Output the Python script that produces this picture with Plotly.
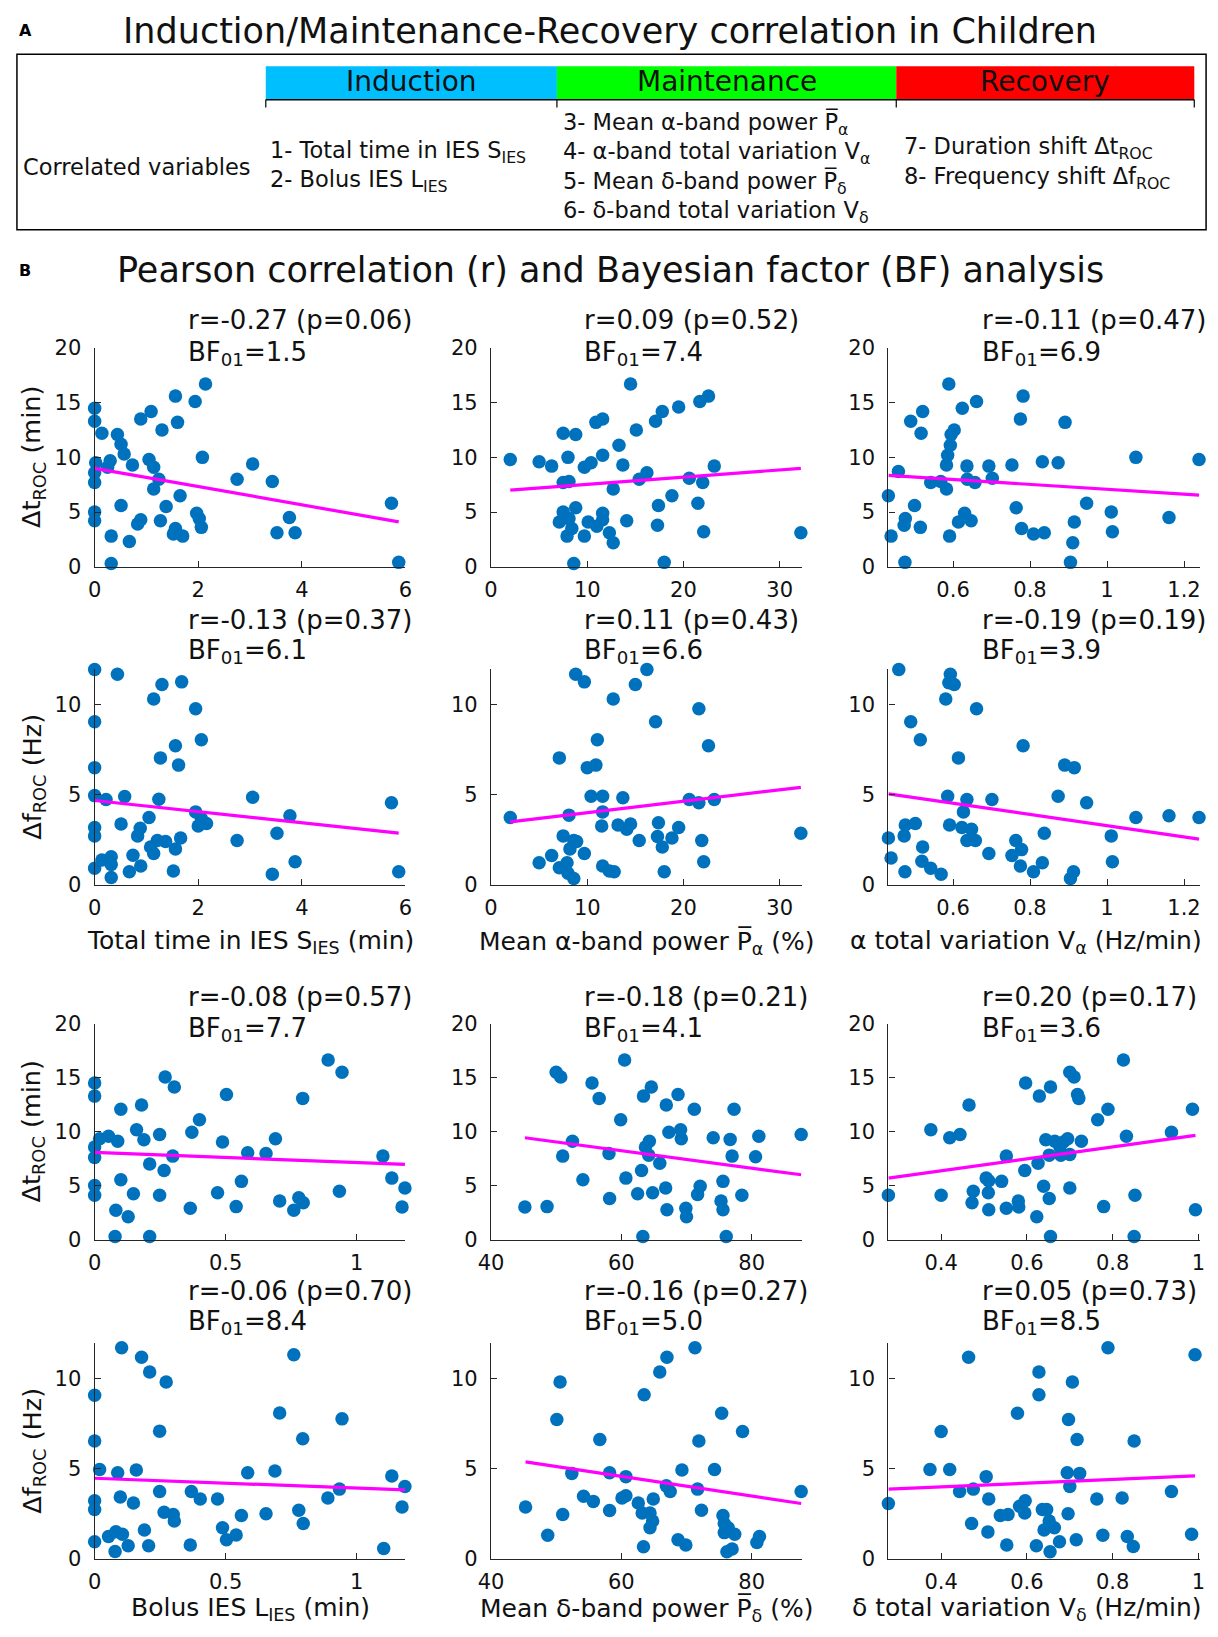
import plotly.graph_objects as go

W, H = 1218, 1637

# ---- data ----
# row 1: dt_ROC (min) against induction / maintenance alpha variables
sies_dt_x = [0, 0, 0.14, 0.44, 0.51, 0.57, 0.73, 0.02, 0.25, 0.30, 0, 0, 0, 0, 0.32, 0.32, 0.51, 0.67,
             0.83, 0.89, 0.89, 1.09, 1.05, 1.14, 1.24, 1.14, 1.30, 1.27, 1.38, 1.56, 1.60, 1.65, 1.56,
             1.52, 1.70, 1.94, 2.14, 2.08, 1.97, 2.02, 2.06, 2.75, 3.05, 3.43, 3.52, 3.76, 3.87, 5.73, 5.87]
sies_dt_y = [14.5, 13.3, 12.2, 12.1, 11.2, 10.3, 9.3, 9.5, 9.1, 9.7, 8.6, 7.7, 5.0, 4.2, 2.8, 0.3, 5.6, 2.3,
             3.9, 4.3, 13.5, 14.2, 9.8, 9.1, 8.0, 7.1, 12.5, 4.2, 5.5, 15.6, 13.2, 6.5, 3.5,
             3.0, 2.8, 15.1, 16.7, 10.0, 4.9, 4.4, 3.6, 8.0, 9.4, 7.8, 3.1, 4.5, 3.1, 5.8, 0.4]

palpha_dt_x = [2.0, 5.0, 6.3, 7.5, 8.8, 8.0, 7.5, 8.1, 7.5, 7.1, 8.1, 8.8, 8.4, 7.9, 8.6, 9.7, 9.7, 10.4,
               10.1, 11.0, 11.6, 11.6, 12.3, 12.7, 10.9, 11.6, 11.6, 13.3, 13.7, 12.7, 14.1, 14.5, 15.1,
               15.4, 16.2, 17.1, 17.8, 19.5, 17.4, 17.3, 18.0, 18.8, 20.6, 21.7, 22.6, 22.0, 21.5, 22.1,
               23.2, 32.2]
palpha_dt_y = [9.8, 9.6, 9.2, 12.2, 12.1, 10.0, 7.7, 7.8, 5.0, 4.1, 4.4, 5.4, 3.5, 2.8, 0.3, 2.8, 9.1, 9.5,
               4.1, 3.7, 4.9, 4.3, 3.1, 2.2, 13.2, 13.5, 10.2, 11.1, 9.3, 7.1, 4.2, 16.7, 12.5,
               8.0, 8.6, 13.3, 14.2, 14.6, 5.6, 3.8, 0.4, 6.5, 8.1, 15.1, 15.6, 7.7, 5.8, 3.2,
               9.2, 3.1]

valpha_dt_x = [0.432, 0.439, 0.458, 0.475, 0.473, 0.476, 0.490, 0.500, 0.515, 0.517, 0.521, 0.542, 0.568,
               0.583, 0.583, 0.586, 0.593, 0.595, 0.603, 0.589, 0.591, 0.614, 0.624, 0.630, 0.636, 0.637,
               0.647, 0.657, 0.661, 0.693, 0.702, 0.753, 0.764, 0.775, 0.782, 0.778, 0.809, 0.837, 0.832,
               0.873, 0.891, 0.905, 0.911, 0.915, 0.947, 1.011, 1.014, 1.075, 1.161, 1.239]
valpha_dt_y = [6.5, 2.8, 8.7, 0.4, 3.8, 4.4, 13.3, 5.6, 3.6, 12.2, 14.2, 7.7, 7.8,
               7.1, 9.3, 10.2, 11.1, 12.1, 12.5, 16.7, 2.8, 4.1, 14.5, 4.9, 9.2, 8.0,
               4.2, 7.7, 15.1, 9.2, 8.1, 9.3, 5.4, 13.5, 15.6, 3.5, 3.0, 3.1, 9.6,
               9.5, 13.2, 0.4, 2.2, 4.1, 5.8, 5.0, 3.2, 10.0, 4.5, 9.8]

# row 2: df_ROC (Hz) against the same variables
sies_df_x = [0, 0.44, 1.14, 1.30, 1.68, 1.95, 0, 2.06, 1.27, 1.56, 1.62, 0, 0, 0.22, 0.58, 1.24, 3.05,
             5.73, 1.95, 2.06, 2.16, 2.0, 3.77, 3.52, 1.05, 0.51, 0, 0, 0.83, 0.88, 1.08, 1.14, 1.21,
             1.37, 1.56, 1.66, 2.75, 0, 0.14, 0.32, 0.32, 0.32, 0.67, 0.74, 0.89, 1.52, 3.43, 3.87, 5.87]
sies_df_y = [11.94, 11.67, 10.3, 11.1, 11.25, 9.76, 9.04, 8.04, 7.04, 7.71, 6.64, 6.5, 4.95, 4.74, 4.9,
             4.75, 4.86, 4.56, 4.05, 3.68, 3.41, 3.27, 3.83, 2.87, 3.74, 3.38, 3.19, 2.72, 2.72, 3.14,
             2.1, 1.74, 2.47, 2.41, 2.0, 2.6, 2.47, 0.93, 1.38, 1.56, 1.14, 0.42, 0.73, 1.65, 1.05,
             0.78, 0.6, 1.29, 0.73]

palpha_df_x = [2.0, 5.0, 6.3, 7.1, 7.5, 7.1, 7.9, 8.1, 8.2, 8.6, 8.0, 8.6, 8.9, 9.7, 8.8, 9.7, 10.0, 10.9,
               11.05, 10.4, 11.6, 11.6, 11.5, 11.6, 12.3, 12.8, 12.7, 13.7, 13.2, 14.1, 14.5, 15.0, 15.4,
               16.2, 17.1, 17.4, 17.3, 17.8, 18.0, 18.8, 19.5, 20.6, 21.6, 21.6, 22.6, 21.9, 22.1, 23.2,
               32.2]
palpha_df_y = [3.74, 1.23, 1.63, 7.04, 2.72, 0.96, 1.23, 3.87, 2.0, 2.47, 0.65, 0.36, 2.41, 1.74, 11.67,
               11.25, 6.5, 6.64, 8.04, 4.92, 4.92, 4.05, 3.27, 1.05, 0.78, 0.73, 10.3, 4.83, 3.32, 3.09,
               3.38, 11.1, 2.47, 11.94, 9.04, 3.45, 2.69, 2.1, 0.73, 2.6, 3.19, 4.74, 9.76, 4.56, 7.71,
               2.47, 1.29, 4.74, 2.87]

valpha_df_x = [0.432, 0.439, 0.459, 0.475, 0.473, 0.476, 0.490, 0.502, 0.515, 0.521, 0.519, 0.542, 0.569,
               0.581, 0.593, 0.589, 0.603, 0.586, 0.591, 0.614, 0.627, 0.636, 0.623, 0.648, 0.636, 0.658,
               0.661, 0.693, 0.701, 0.753, 0.763, 0.778, 0.775, 0.782, 0.809, 0.832, 0.837, 0.873, 0.890,
               0.915, 0.905, 0.913, 0.947, 1.011, 1.014, 1.075, 1.161, 1.239]
valpha_df_y = [2.6, 1.5, 11.94, 0.73, 2.72, 3.32, 9.04, 3.41, 8.04, 2.1, 1.32, 0.93, 0.6,
               10.3, 11.67, 11.2, 11.1, 4.92, 3.32, 7.04, 4.05, 4.74, 3.19, 3.09, 2.47, 2.47,
               9.76, 1.74, 4.74, 1.63, 2.47, 1.96, 1.05, 7.71, 0.73, 1.23, 2.87, 4.92, 6.64,
               6.5, 0.36, 0.73, 4.56, 2.72, 1.29, 3.74, 3.83, 3.74]

# row 3: dt_ROC (min) against bolus IES / maintenance delta variables
lies_dt_x = [0, 0, 0, 0, 0, 0, 0.019, 0.053, 0.088, 0.081, 0.078, 0.10, 0.10, 0.128, 0.148, 0.16, 0.188,
             0.179, 0.21, 0.21, 0.248, 0.248, 0.269, 0.304, 0.298, 0.265, 0.365, 0.371, 0.40, 0.469, 0.488,
             0.503, 0.54, 0.56, 0.584, 0.654, 0.69, 0.706, 0.76, 0.779, 0.796, 0.794, 0.891, 0.944, 0.934,
             1.10, 1.134, 1.184, 1.173]
lies_dt_y = [14.53, 13.31, 8.6, 7.63, 5.02, 4.13, 9.36, 9.6, 9.12, 2.74, 0.3, 12.1, 5.56, 2.13, 4.26, 10.2,
             9.27, 12.49, 7.02, 0.3, 9.76, 4.13, 15.08, 14.16, 7.75, 6.41, 2.92, 9.97, 11.12, 4.35, 9.06,
             13.47, 3.07, 5.41, 8.05, 7.99, 9.36, 3.59, 2.74, 3.89, 3.43, 13.1, 16.66, 15.53, 4.5,
             7.75, 5.71, 4.8, 3.04]

pdelta_dt_x = [45.2, 48.6, 50.0, 50.7, 51.0, 52.5, 54.1, 55.5, 56.6, 58.1, 58.2, 59.9, 60.5, 60.7, 62.5,
               63.1, 63.4, 63.3, 63.7, 64.3, 64.2, 64.6, 64.8, 65.9, 66.9, 66.8, 67.0, 67.3, 68.7, 69.1,
               69.2, 69.9, 70.0, 71.2, 71.7, 72.1, 74.1, 75.6, 75.3, 75.6, 76.1, 76.7, 77.0, 77.3, 78.5,
               80.6, 81.1, 87.6]
pdelta_dt_y = [3.04, 3.07, 15.53, 15.08, 7.75, 9.12, 5.56, 14.53, 13.1, 7.99, 3.83, 11.12, 16.66, 5.71,
               4.26, 6.41, 13.31, 0.3, 8.6, 9.12, 7.84, 14.16, 4.35, 7.08, 12.49, 4.8, 2.77, 9.97, 13.47,
               10.2, 9.36, 2.92, 2.13, 12.1, 4.19, 4.95, 9.45, 5.41, 3.59, 2.77, 0.3, 9.3, 7.75, 12.1,
               4.13, 7.69, 9.6, 9.76]

vdelta_dt_x = [0.277, 0.376, 0.40, 0.42, 0.444, 0.465, 0.475, 0.472, 0.505, 0.511, 0.51, 0.511, 0.541,
               0.552, 0.552, 0.58, 0.581, 0.595, 0.597, 0.623, 0.626, 0.629, 0.639, 0.652, 0.644, 0.652,
               0.655, 0.655, 0.665, 0.677, 0.679, 0.685, 0.695, 0.70, 0.70, 0.70, 0.71, 0.718, 0.721,
               0.727, 0.765, 0.789, 0.779, 0.825, 0.832, 0.852, 0.85, 0.937, 0.986, 0.993]
vdelta_dt_y = [4.13, 10.2, 4.13, 9.45, 9.76, 12.49, 4.5, 3.43, 5.71, 5.47, 4.35, 2.77, 5.41,
               7.75, 2.92, 3.59, 3.04, 6.41, 14.53, 2.13, 7.08, 13.31, 4.95, 3.83, 9.27, 7.84,
               14.16, 0.3, 9.12, 8.6, 7.84, 9.06, 9.36, 7.9, 4.8, 15.53, 15.08, 13.47, 13.1,
               9.12, 11.12, 12.1, 3.07, 16.66, 9.6, 4.13, 0.3, 9.97, 12.1, 2.77]

# row 4: df_ROC (Hz) against the same variables
lies_df_x = [0, 0, 0, 0, 0, 0, 0.019, 0.088, 0.103, 0.098, 0.053, 0.081, 0.106, 0.078, 0.128, 0.148,
             0.159, 0.179, 0.21, 0.19, 0.206, 0.248, 0.248, 0.273, 0.265, 0.30, 0.304, 0.369, 0.403, 0.365,
             0.469, 0.488, 0.503, 0.54, 0.56, 0.584, 0.654, 0.688, 0.706, 0.76, 0.779, 0.796, 0.794,
             0.89, 0.934, 0.944, 1.103, 1.134, 1.184, 1.173]
lies_df_y = [12.0, 9.07, 6.53, 3.23, 2.74, 0.95, 4.96, 4.78, 11.7, 3.43, 1.24, 1.51, 1.37, 0.42, 0.73, 3.1,
             4.93, 11.17, 10.36, 1.61, 0.73, 7.08, 3.74, 9.8, 2.59, 2.46, 2.1, 3.74, 3.32, 0.77,
             3.32, 1.73, 1.06, 1.33, 2.41, 4.78, 2.5, 4.87, 8.08, 11.31, 2.7, 1.97, 6.66,
             3.38, 3.87, 7.76, 0.58, 4.6, 4.01, 2.88]

pdelta_df_x = [45.3, 48.7, 50.1, 50.6, 51.0, 52.4, 54.2, 55.7, 56.7, 58.2, 58.2, 60.1, 60.7, 60.7, 62.6,
               63.2, 63.5, 63.9, 63.4, 64.4, 64.8, 64.4, 64.9, 65.9, 67.0, 66.9, 67.5, 68.7, 69.3, 69.9,
               71.3, 71.7, 71.9, 72.3, 74.3, 75.4, 75.6, 75.8, 75.8, 76.4, 76.2, 77.0, 77.4, 78.6, 80.8,
               81.2, 87.6]
pdelta_df_y = [2.88, 1.31, 7.72, 9.8, 2.46, 4.74, 3.47, 3.19, 6.62, 2.68, 4.78, 3.38, 4.56, 3.5, 3.1,
               2.55, 9.09, 12.0, 0.68, 2.55, 2.1, 1.73, 3.32, 10.35, 11.17, 4.05, 3.74, 1.06, 4.93, 0.77,
               11.7, 3.87, 6.53, 2.7, 4.96, 8.07, 2.41, 1.97, 1.46, 1.73, 0.4, 0.55, 1.37, 7.06, 0.91,
               1.24, 3.74]

vdelta_df_x = [0.277, 0.374, 0.40, 0.42, 0.443, 0.464, 0.471, 0.475, 0.505, 0.511, 0.509, 0.538, 0.556,
               0.553, 0.578, 0.583, 0.596, 0.595, 0.622, 0.628, 0.628, 0.636, 0.646, 0.652, 0.64, 0.664,
               0.654, 0.676, 0.678, 0.694, 0.697, 0.706, 0.696, 0.70, 0.717, 0.723, 0.715, 0.763, 0.777,
               0.789, 0.822, 0.834, 0.848, 0.85, 0.937, 0.984, 0.992]
vdelta_df_y = [3.07, 4.96, 7.06, 4.96, 3.74, 11.17, 1.97, 3.87, 4.56, 3.32, 1.5, 2.41, 2.46,
               0.77, 8.07, 2.92, 3.23, 2.55, 0.73, 10.35, 9.09, 2.74, 2.74, 2.1, 1.61, 1.73,
               0.4, 0.95, 12.0, 4.78, 7.72, 9.8, 2.5, 4.01, 6.62, 4.74, 1.06, 3.32, 1.31,
               11.7, 3.38, 1.24, 0.69, 6.53, 3.74, 1.37, 11.31]

# regression line value at the smallest and largest x of each panel
fit_start = [9.0, 7.0, 8.35, 4.68, 3.5, 5.05, 8.09, 9.45, 5.71, 4.47, 5.38, 3.87]
fit_end = [4.1, 9.0, 6.55, 2.87, 5.41, 2.54, 6.99, 6.02, 9.67, 3.83, 3.07, 4.6]

r_labels = ["r=-0.27 (p=0.06)", "r=0.09 (p=0.52)", "r=-0.11 (p=0.47)",
            "r=-0.13 (p=0.37)", "r=0.11 (p=0.43)", "r=-0.19 (p=0.19)",
            "r=-0.08 (p=0.57)", "r=-0.18 (p=0.21)", "r=0.20 (p=0.17)",
            "r=-0.06 (p=0.70)", "r=-0.16 (p=0.27)", "r=0.05 (p=0.73)"]
bf_labels = ["1.5", "7.4", "6.9", "6.1", "6.6", "3.9", "7.7", "4.1", "3.6", "8.4", "5.0", "8.5"]

ticks_sies = [0, 2, 4, 6]
ticks_palpha = [0, 10, 20, 30]
ticks_valpha = [0.6, 0.8, 1, 1.2]
ticks_lies = [0, 0.5, 1]
ticks_pdelta = [40, 60, 80]
ticks_vdelta = [0.4, 0.6, 0.8, 1]
ticks_dt = [0, 5, 10, 15, 20]
ticks_df = [0, 5, 10]

OV = "\u0305"
x_titles = ["Total time in IES S<sub>IES</sub> (min)",
            "Mean \u03b1-band power P" + OV + "<sub>\u03b1</sub> (%)",
            "\u03b1 total variation V<sub>\u03b1</sub> (Hz/min)",
            "Bolus IES L<sub>IES</sub> (min)",
            "Mean \u03b4-band power P" + OV + "<sub>\u03b4</sub> (%)",
            "\u03b4 total variation V<sub>\u03b4</sub> (Hz/min)"]
y_titles = ["\u0394t<sub>ROC</sub> (min)", "\u0394f<sub>ROC</sub> (Hz)"]

panels = [
    (sies_dt_x, sies_dt_y), (palpha_dt_x, palpha_dt_y), (valpha_dt_x, valpha_dt_y),
    (sies_df_x, sies_df_y), (palpha_df_x, palpha_df_y), (valpha_df_x, valpha_df_y),
    (lies_dt_x, lies_dt_y), (pdelta_dt_x, pdelta_dt_y), (vdelta_dt_x, vdelta_dt_y),
    (lies_df_x, lies_df_y), (pdelta_df_x, pdelta_df_y), (vdelta_df_x, vdelta_df_y),
]
x_ticks = [ticks_sies, ticks_palpha, ticks_valpha, ticks_lies, ticks_pdelta, ticks_vdelta]
x_ranges = [[0, 6.0], [0, 32.3], [0.432, 1.242], [0, 1.186], [40, 87.7], [0.277, 1.004]]

# ---- layout geometry (pixels) ----
col_px = [(83, 399), (486, 802), (890, 1207)]
row_px = [(341, 563), (667, 886), (1027, 1246), (1351, 1570)]
r_y = [313, 617, 1000, 1298]
bf_y = [347, 649, 1033, 1330]

FONT = "DejaVu Sans"
INK = "#262626"
TXT = "#111111"
BLUE = "#0072BD"


def px(x):
    return x / W


def py(y):
    return 1 - y / H


def label(x, y, text, size, anchor="left", angle=0, color=TXT):
    return dict(x=px(x), y=py(y), xref="paper", yref="paper", text=text, textangle=angle,
                showarrow=False, xanchor=anchor, yanchor="middle",
                font=dict(family=FONT, size=size, color=color))


fig = go.Figure()
layout = {}
annotations = []

for i, (xs, ys) in enumerate(panels):
    row, col = divmod(i, 3)
    n = i + 1
    xa = "x" if n == 1 else f"x{n}"
    ya = "y" if n == 1 else f"y{n}"
    set_idx = (row // 2) * 3 + col

    fig.add_trace(go.Scatter(
        x=xs, y=ys, mode="markers", xaxis=xa, yaxis=ya,
        marker=dict(color=BLUE, size=13.5, line=dict(width=0)),
        cliponaxis=False, showlegend=False, hoverinfo="x+y",
    ))
    fig.add_trace(go.Scatter(
        x=[min(xs), max(xs)], y=[fit_start[i], fit_end[i]], mode="lines",
        xaxis=xa, yaxis=ya, line=dict(color="#FF00FF", width=3.2),
        cliponaxis=False, showlegend=False, hoverinfo="skip",
    ))

    l, r = col_px[col]
    t, b = row_px[row]
    ticks = x_ticks[set_idx]
    yt = ticks_dt if row % 2 == 0 else ticks_df
    layout[f"xaxis{n}"] = dict(
        domain=[px(l), px(r)], range=x_ranges[set_idx], anchor=ya,
        tickvals=ticks, ticktext=[f"{v:g}" for v in ticks],
        ticks="inside", ticklen=6, tickwidth=1, tickcolor=INK,
        showline=True, linecolor=INK, linewidth=1.3,
        showgrid=False, zeroline=False, ticklabelstandoff=4,
        tickfont=dict(family=FONT, size=21, color=TXT),
    )
    layout[f"yaxis{n}"] = dict(
        domain=[py(b), py(t)], range=[0, 20] if row % 2 == 0 else [0, 11.95], anchor=xa,
        tickvals=yt, ticktext=[str(v) for v in yt],
        ticks="inside", ticklen=6, tickwidth=1, tickcolor=INK,
        showline=True, linecolor=INK, linewidth=1.3,
        showgrid=False, zeroline=False, ticklabelstandoff=8,
        tickfont=dict(family=FONT, size=21, color=TXT),
    )

    annotations.append(label(l + 93, r_y[row], r_labels[i], 26))
    annotations.append(label(l + 93, bf_y[row], "BF<sub>01</sub>=" + bf_labels[i], 26))

# axis titles
for row in range(4):
    t, b = row_px[row]
    annotations.append(label(20, (t + b) / 2, y_titles[row % 2], 25.5, anchor="center", angle=-90))
for k, ty in enumerate([944, 1621]):
    for col in range(3):
        l, r = col_px[col]
        if col == 2:
            # right column titles run up to the window edge: pin their right end
            annotations.append(label(1211, ty, x_titles[k * 3 + col], 25, anchor="right"))
        else:
            annotations.append(label((l + r) / 2, ty, x_titles[k * 3 + col], 25, anchor="center"))

# ---- panel A header ----
phases = ["Induction", "Maintenance", "Recovery"]
phase_colors = ["#00BFFF", "#00FF00", "#FF0000"]
phase_px = [257, 553, 898, 1201]
induction_vars = ["1- Total time in IES S<sub>IES</sub>", "2- Bolus IES L<sub>IES</sub>"]
maintenance_vars = ["3- Mean \u03b1-band power P" + OV + "<sub>\u03b1</sub>",
                    "4- \u03b1-band total variation V<sub>\u03b1</sub>",
                    "5- Mean \u03b4-band power P" + OV + "<sub>\u03b4</sub>",
                    "6- \u03b4-band total variation V<sub>\u03b4</sub>"]
recovery_vars = ["7- Duration shift \u0394t<sub>ROC</sub>",
                 "8- Frequency shift \u0394f<sub>ROC</sub>"]

shapes = [dict(type="rect", xref="paper", yref="paper", x0=px(4), x1=px(1213), y0=py(43), y1=py(221),
               line=dict(color="black", width=1.5), fillcolor="rgba(0,0,0,0)")]
for k, name in enumerate(phases):
    shapes.append(dict(type="rect", xref="paper", yref="paper",
                       x0=px(phase_px[k]), x1=px(phase_px[k + 1]), y0=py(55), y1=py(89),
                       line=dict(width=0), fillcolor=phase_colors[k], layer="below"))
    annotations.append(label((phase_px[k] + phase_px[k + 1]) / 2, 71, name, 28, anchor="center"))
shapes.append(dict(type="line", xref="paper", yref="paper", x0=px(phase_px[0]), x1=px(phase_px[-1]),
                   y0=py(89), y1=py(89), line=dict(color="black", width=1.5)))
for xp in phase_px:
    shapes.append(dict(type="line", xref="paper", yref="paper", x0=px(xp), x1=px(xp),
                       y0=py(89), y1=py(97), line=dict(color="black", width=1.2)))

annotations.append(label(8, 157, "Correlated variables", 22.5))
for k, txt in enumerate(induction_vars):
    annotations.append(label(259, 142 + 30 * k, txt, 22.5))
for k, txt in enumerate(maintenance_vars):
    annotations.append(label(557, 113 + 30 * k, txt, 22.5))
for k, txt in enumerate(recovery_vars):
    annotations.append(label(904, 138 + 30 * k, txt, 22.5))

# panel letters and titles
for letter, ty, title in [("A", 19, "Induction/Maintenance-Recovery correlation in Children"),
                          ("B", 262, "Pearson correlation (r) and Bayesian factor (BF) analysis")]:
    annotations.append(label(4, ty, "<b>" + letter + "</b>", 16, color="black"))
    annotations.append(label(607, ty, title, 35, anchor="center"))

fig.update_layout(
    width=W, height=H, autosize=False,
    margin=dict(l=0, r=0, t=0, b=0),
    paper_bgcolor="white", plot_bgcolor="white",
    font=dict(family=FONT),
    annotations=annotations, shapes=shapes,
    **layout,
)

# drop the default page margin so the figure sits flush in the window
fig.write_html("out.html", config={"displayModeBar": False},
               post_script="document.body.style.margin='0';document.body.style.overflow='hidden';")
